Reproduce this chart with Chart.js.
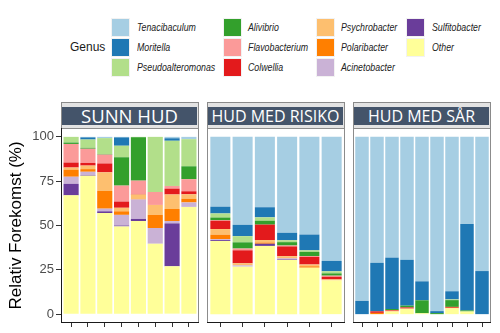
<!DOCTYPE html>
<html>
<head>
<meta charset="utf-8">
<script src="https://cdn.jsdelivr.net/npm/chart.js@4.4.1/dist/chart.umd.min.js"></script>
<style>
  body { margin: 0; background: #fff; }
  #wrap { position: relative; width: 500px; height: 333px; overflow: hidden; font-family: "Liberation Sans", Arial, sans-serif; }
  .panel { position: absolute; top: 128px; height: 205px; }
  .strip { position: absolute; top: 102px; height: 26px; width: 138px; box-sizing: border-box;
           background: #e3e3e3; border: 1px solid #8a8a8a; border-bottom: none; }
  .strip div { position: absolute; left: 0; right: 1px; top: 4px; height: 18px; background: #44546a; overflow: hidden;
               color: #fff; font-family: "Open Sans", sans-serif; line-height: 18px; text-align: center; white-space: nowrap; }
  .key { position: absolute; width: 17px; height: 17px; border: 1px solid #f2f2f2; }
  .lab { position: absolute; font-style: italic; font-size: 11px; color: #222; white-space: nowrap;
         transform: scaleX(0.8); transform-origin: left center; line-height: 14px; }
  #genus { position: absolute; left: 70px; top: 40px; font-size: 12px; color: #1a1a1a; }
</style>
</head>
<body>
<div id="wrap">
  <div id="genus">Genus</div>
</div>
<script>
"use strict";

// facets and how many samples each one has
const panelNames = ['SUNN HUD', 'HUD MED RISIKO', 'HUD MED SÅR'];
const panelSizes = [8, 6, 9];
const yTicks = [0, 25, 50, 75, 100];

// legend order (top of stack first)
const genera = ['Tenacibaculum', 'Moritella', 'Pseudoalteromonas', 'Alivibrio', 'Flavobacterium',
    'Colwellia', 'Psychrobacter', 'Polaribacter', 'Acinetobacter', 'Sulfitobacter', 'Other'];
const colors = ['#a6cee3', '#1f78b4', '#b2df8a', '#33a02c', '#fb9a99',
    '#e31a1c', '#fdbf6f', '#ff7f00', '#cab2d6', '#6a3d9a', '#ffff99'];

// relative abundance (%), 8 + 6 + 9 samples
const tenacibaculum = [0, 0.3, 0.7, 0.3, 0, 0, 0.8, 1.3, 39.4, 49.6, 39.7, 54.1, 55.1, 70, 92.5, 71.1, 68.1, 69.4, 81.5, 98.3, 87.1, 49.2, 75.7];
const moritella = [0, 1.2, 0, 4.7, 0, 0, 1.4, 0, 3.8, 6.4, 5.7, 4.2, 8.9, 5.8, 7.5, 27.3, 29, 25.8, 10.7, 1.1, 4.6, 48.7, 24.3];
const pseudoalteromonas = [3.2, 4.7, 9, 6.5, 0.2, 31.1, 25.5, 15.3, 2.3, 3.5, 1.9, 1.1, 0.9, 1.2, 0, 0, 0, 0, 0, 0, 0.4, 0, 0];
const alivibrio = [0.8, 0.5, 0.3, 16, 24.5, 0, 0, 7.3, 1.5, 3.5, 2.2, 1.9, 2.3, 1.3, 0, 0, 0.6, 1, 7.3, 0.6, 3.8, 0.6, 0];
const flavobacterium = [10.5, 8, 5, 9, 7.5, 7.3, 1.5, 6.8, 0.3, 1, 0, 0.5, 0.5, 0.6, 0, 0, 0, 0, 0, 0, 0, 0, 0];
const colwellia = [2.8, 1.5, 5, 3.5, 0.3, 0, 3.3, 1.7, 4.7, 7.3, 8.7, 5.5, 4.3, 1.5, 0, 0.9, 0.4, 0.7, 0, 0, 0.5, 0, 0];
const psychrobacter = [1.2, 2, 10.5, 2, 2.5, 5.6, 8.2, 2.5, 3.2, 1.2, 1.4, 0.9, 1, 0.6, 0, 0, 0.5, 0, 0, 0, 0, 0, 0];
const polaribacter = [4, 1.5, 10, 2, 0.3, 7.4, 6.8, 2.1, 2.5, 0, 0.7, 0.3, 0.8, 0, 0, 0.7, 0, 0, 0, 0, 0.3, 0, 0];
const acinetobacter = [4, 2, 1.5, 6, 11, 8.9, 1.3, 2.5, 0.5, 0.7, 0, 0.6, 0, 0, 0, 0, 0, 0, 0, 0, 0, 0, 0];
const sulfitobacter = [6.5, 0.3, 1, 0.5, 1.2, 0, 24.2, 0, 0.5, 0, 1.2, 0.3, 0, 0, 0, 0, 0, 0, 0, 0, 0, 0, 0];
const other = [67, 78, 57, 49.5, 52.5, 39.7, 27, 60.5, 41.3, 26.8, 38.5, 30.6, 26.2, 19, 0, 0, 1.4, 3.1, 0.5, 0, 3.3, 1.5, 0];

const series = [tenacibaculum, moritella, pseudoalteromonas, alivibrio, flavobacterium,
    colwellia, psychrobacter, polaribacter, acinetobacter, sulfitobacter, other];

const panelLeft = [61, 207, 353];
const panelWidth = 138;

// grey panel border, black axis lines
const framePlugin = {
    id: 'frame',
    afterDatasetsDraw(chart, args, opts) {
        const ctx = chart.ctx;
        const a = chart.chartArea;
        ctx.save();
        ctx.lineWidth = 1;
        ctx.strokeStyle = '#8c8c8c';
        ctx.strokeRect(a.left + 0.5, a.top + 0.5, a.width - 1, a.height - 1);
        ctx.strokeStyle = '#1a1a1a';
        ctx.beginPath();
        ctx.moveTo(a.left, a.bottom - 0.5);
        ctx.lineTo(a.right, a.bottom - 0.5);
        if (opts.leftAxis) {
            ctx.moveTo(a.left + 0.5, a.top);
            ctx.lineTo(a.left + 0.5, a.bottom);
        }
        ctx.stroke();
        ctx.restore();
    }
};

const wrap = document.getElementById('wrap');

// legend, 3 rows, column-major
const colBox = [111, 223, 316, 406];
const colLab = [137, 248, 341, 432];
genera.forEach((g, i) => {
    const col = Math.floor(i / 3);
    const row = i % 3;
    const key = document.createElement('div');
    key.className = 'key';
    key.style.left = colBox[col] + 'px';
    key.style.top = (18 + row * 20) + 'px';
    key.style.background = colors[i];
    wrap.appendChild(key);
    const lab = document.createElement('div');
    lab.className = 'lab';
    lab.style.left = colLab[col] + 'px';
    lab.style.top = (20 + row * 20) + 'px';
    lab.textContent = g;
    wrap.appendChild(lab);
});

let offset = 0;
panelNames.forEach((name, p) => {
    const n = panelSizes[p];
    const first = p === 0;

    const strip = document.createElement('div');
    strip.className = 'strip';
    strip.style.left = panelLeft[p] + 'px';
    strip.innerHTML = `<div style="font-size:${first ? 18.5 : 16}px">${name}</div>`;
    wrap.appendChild(strip);

    const box = document.createElement('div');
    box.className = 'panel';
    box.style.left = (first ? 0 : panelLeft[p]) + 'px';
    box.style.width = (first ? panelLeft[p] + panelWidth : panelWidth) + 'px';
    box.innerHTML = `<canvas id="panel${p}"></canvas>`;
    wrap.appendChild(box);

    const xs = [];
    for (let i = 1; i <= n; i++) xs.push(i);

    // Chart.js stacks the first dataset at the bottom, so go from Other upwards
    const datasets = genera.map((g, k) => ({
        label: g,
        data: series[k].slice(offset, offset + n).map((v, i) => ({ x: xs[i], y: v })),
        backgroundColor: colors[k],
        borderWidth: 0,
        barPercentage: 0.9,
        categoryPercentage: 1
    })).reverse();
    offset += n;

    new Chart(document.getElementById(`panel${p}`).getContext('2d'), {
        type: 'bar',
        data: { datasets: datasets },
        options: {
            responsive: true,
            maintainAspectRatio: false,
            animation: false,
            layout: { padding: 0 },
            plugins: {
                legend: { display: false },
                tooltip: { enabled: false },
                frame: { leftAxis: first }
            },
            scales: {
                x: {
                    type: 'linear',
                    stacked: true,
                    offset: false,
                    min: 0.4,
                    max: n + 0.6,
                    afterBuildTicks: s => { s.ticks = xs.map(v => ({ value: v })); },
                    afterFit: s => { s.height = 10; s.paddingLeft = 0; s.paddingRight = 0; },
                    grid: { drawOnChartArea: false, offset: false, tickLength: 4, color: '#333' },
                    border: { display: false },
                    ticks: { display: false }
                },
                y: {
                    display: first,
                    stacked: true,
                    min: -5,
                    max: 105,
                    afterBuildTicks: s => { s.ticks = yTicks.map(v => ({ value: v })); },
                    afterFit: s => {
                        if (first) s.width = panelLeft[0];
                        // no room for end labels, the range already has 5% each side
                        s.paddingTop = 0;
                        s.paddingBottom = 0;
                    },
                    grid: { drawOnChartArea: false, tickLength: 5, color: '#333' },
                    border: { display: false },
                    ticks: { color: '#4d4d4d', padding: 2, font: { size: 13, family: 'Liberation Sans' } },
                    title: {
                        display: true,
                        text: 'Relativ Forekomst (%)',
                        color: '#000',
                        padding: { top: 6, bottom: 0 },
                        font: { size: 17, family: 'Liberation Sans' }
                    }
                }
            }
        },
        plugins: [framePlugin]
    });
});
</script>
</body>
</html>
